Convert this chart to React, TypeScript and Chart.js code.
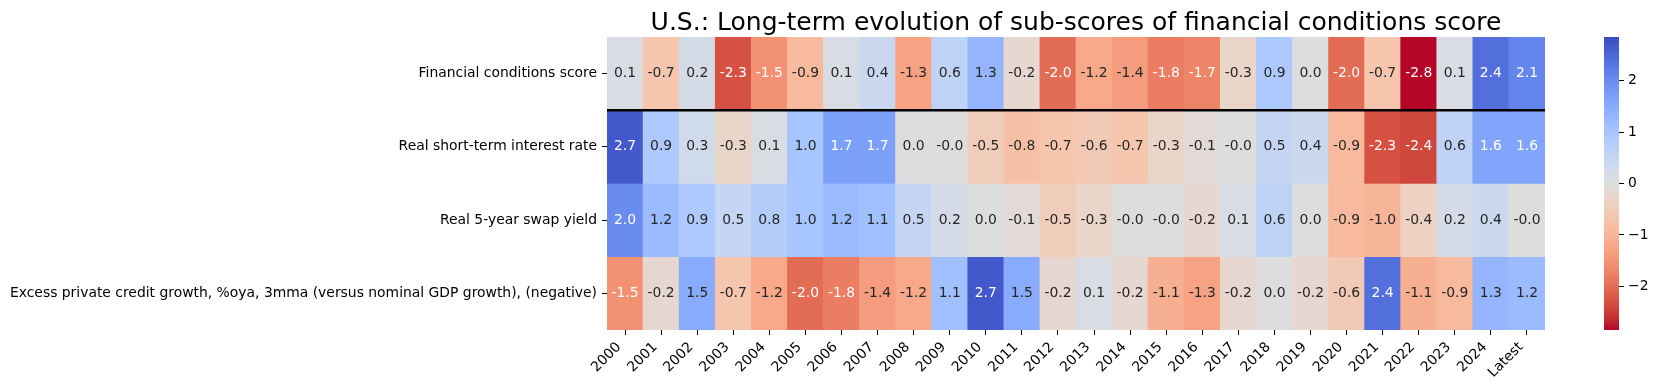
import React, { useEffect, useRef } from 'react';
import { Chart, registerables } from 'chart.js';

Chart.register(...registerables);

// ---------------- data ----------------
const titleText = 'U.S.: Long-term evolution of sub-scores of financial conditions score';

const years = [
  '2000', '2001', '2002', '2003', '2004', '2005', '2006', '2007', '2008', '2009',
  '2010', '2011', '2012', '2013', '2014', '2015', '2016', '2017', '2018', '2019',
  '2020', '2021', '2022', '2023', '2024', 'Latest',
];

const rowLabels = [
  'Financial conditions score',
  'Real short-term interest rate',
  'Real 5-year swap yield',
  'Excess private credit growth, %oya, 3mma (versus nominal GDP growth), (negative)',
];

const financialConditionsScore = [
  0.1, -0.7, 0.2, -2.3, -1.54, -0.9, 0.1, 0.4, -1.3, 0.6,
  1.3, -0.2, -2.0, -1.2, -1.4, -1.8, -1.7, -0.3, 0.9, 0.0,
  -2.0, -0.7, -2.84, 0.1, 2.4, 2.1,
];

const realShortTermRate = [
  2.7, 0.9, 0.3, -0.3, 0.1, 1.0, 1.7, 1.7, 0.0, -0.01,
  -0.5, -0.8, -0.7, -0.6, -0.7, -0.3, -0.1, -0.01, 0.5, 0.4,
  -0.9, -2.3, -2.4, 0.6, 1.6, 1.6,
];

const real5ySwapYield = [
  2.0, 1.2, 0.9, 0.5, 0.8, 1.0, 1.2, 1.1, 0.5, 0.2,
  0.0, -0.1, -0.5, -0.3, -0.01, -0.01, -0.2, 0.1, 0.6, 0.0,
  -0.9, -1.0, -0.4, 0.2, 0.4, -0.01,
];

const excessCreditGrowth = [
  -1.54, -0.2, 1.5, -0.7, -1.2, -2.0, -1.8, -1.4, -1.2, 1.1,
  2.7, 1.5, -0.2, 0.1, -0.2, -1.1, -1.3, -0.2, 0.0, -0.2,
  -0.6, 2.4, -1.1, -0.9, 1.3, 1.2,
];

const colorbarTicks = [-2, -1, 0, 1, 2];
const vLimit = 2.85;

// matplotlib coolwarm (33 control points)
const coolwarm: number[][] = [
  [59, 76, 192], [68, 90, 204], [77, 104, 215], [87, 117, 225], [98, 130, 234],
  [108, 142, 241], [119, 154, 247], [130, 165, 251], [141, 176, 254], [152, 185, 255],
  [163, 194, 255], [174, 201, 253], [184, 208, 249], [194, 213, 244], [204, 217, 238],
  [213, 219, 230], [221, 221, 221], [229, 216, 209], [236, 211, 197], [241, 204, 184],
  [245, 196, 172], [247, 187, 159], [247, 177, 147], [247, 166, 134], [244, 154, 123],
  [241, 141, 111], [236, 127, 99], [229, 112, 88], [222, 96, 77], [213, 80, 66],
  [203, 62, 56], [192, 40, 47], [180, 4, 38],
];

function coolwarmAt(t: number): number[] {
  const tt = Math.min(1, Math.max(0, t)) * (coolwarm.length - 1);
  const i = Math.min(coolwarm.length - 2, Math.floor(tt));
  const f = tt - i;
  const a = coolwarm[i];
  const b = coolwarm[i + 1];
  return [0, 1, 2].map((k) => a[k] + (b[k] - a[k]) * f);
}

// reversed colormap, symmetric around 0
function valueRgb(v: number): number[] {
  const n = (v + vLimit) / (2 * vLimit);
  return coolwarmAt(1 - n);
}

function rgbStr(c: number[]): string {
  return `rgb(${Math.round(c[0])},${Math.round(c[1])},${Math.round(c[2])})`;
}

function textColor(v: number): string {
  const c = valueRgb(v).map((x) => {
    const s = x / 255;
    return s <= 0.03928 ? s / 12.92 : Math.pow((s + 0.055) / 1.055, 2.4);
  });
  const lum = 0.2126 * c[0] + 0.7152 * c[1] + 0.0722 * c[2];
  return lum > 0.408 ? 'rgb(38,38,38)' : '#ffffff';
}

const FONT = 'DejaVu Sans';

export default function App() {
  const mainRef = useRef<HTMLCanvasElement>(null);
  const cbRef = useRef<HTMLCanvasElement>(null);

  useEffect(() => {
    document.body.style.margin = '0';
    const rows = [financialConditionsScore, realShortTermRate, real5ySwapYield, excessCreditGrowth];

    const heatmapPlugin = {
      id: 'heatmapText',
      afterDatasetsDraw(chart: any) {
        const { ctx, chartArea } = chart;
        const xs = chart.scales.x;
        const ys = chart.scales.y;
        ctx.save();
        ctx.font = `13.9px "${FONT}"`;
        ctx.textAlign = 'center';
        ctx.textBaseline = 'middle';
        rows.forEach((vals, i) => {
          vals.forEach((v, j) => {
            ctx.fillStyle = textColor(v);
            ctx.fillText(v.toFixed(1), xs.getPixelForValue(j), ys.getPixelForValue(i + 0.5));
          });
        });
        const ly = ys.getPixelForValue(1);
        ctx.strokeStyle = '#000';
        ctx.lineWidth = 2.7;
        ctx.beginPath();
        ctx.moveTo(chartArea.left, ly);
        ctx.lineTo(chartArea.right, ly);
        ctx.stroke();
        ctx.font = `25px "${FONT}"`;
        ctx.fillStyle = '#000';
        ctx.textAlign = 'center';
        ctx.textBaseline = 'alphabetic';
        ctx.fillText(titleText, (chartArea.left + chartArea.right) / 2, chartArea.top - 7.5);
        ctx.restore();
      },
    };

    const tickFont = { family: FONT, size: 13.9 };

    const main = new Chart(mainRef.current as HTMLCanvasElement, {
      type: 'bar',
      data: {
        labels: years,
        datasets: rows.map((vals, i) => ({
          label: rowLabels[i],
          data: years.map(() => [i, i + 1]),
          backgroundColor: vals.map((v) => rgbStr(valueRgb(v))),
          borderWidth: 0,
          grouped: false,
          barPercentage: 1,
          categoryPercentage: 1,
        })),
      } as any,
      options: {
        responsive: false,
        animation: false,
        devicePixelRatio: 1,
        layout: { padding: { left: 0, right: 45, top: 37, bottom: 0 } },
        plugins: {
          legend: { display: false },
          tooltip: { enabled: false },
          title: { display: false },
        },
        scales: {
          x: {
            type: 'category',
            offset: true,
            grid: {
              display: true,
              drawOnChartArea: false,
              drawTicks: true,
              tickLength: 5,
              tickWidth: 1,
              tickColor: '#000',
              offset: false,
            },
            border: { display: false },
            ticks: {
              autoSkip: false,
              minRotation: 45,
              maxRotation: 45,
              labelOffset: -6,
              padding: 4,
              color: '#000',
              font: tickFont,
            },
            afterFit: (s: any) => {
              s.height = 60;
            },
          },
          y: {
            type: 'linear',
            min: 0,
            max: 4,
            reverse: true,
            grid: {
              display: true,
              drawOnChartArea: false,
              drawTicks: true,
              tickLength: 5,
              tickWidth: 1,
              tickColor: '#000',
            },
            border: { display: false },
            afterBuildTicks: (axis: any) => {
              axis.ticks = rowLabels.map((_, i) => ({ value: i + 0.5 }));
            },
            ticks: {
              callback: (_v: any, idx: number) => rowLabels[idx],
              color: '#000',
              font: tickFont,
              padding: 5,
            },
            afterFit: (s: any) => {
              s.width = 607;
            },
          },
        },
      } as any,
      plugins: [heatmapPlugin],
    });

    const cb = new Chart(cbRef.current as HTMLCanvasElement, {
      type: 'bar',
      data: {
        labels: ['colorbar'],
        datasets: [
          {
            data: [[-vLimit, vLimit]],
            backgroundColor: (c: any) => {
              const chart = c.chart;
              const area = chart.chartArea;
              if (!area) return 'rgb(221,221,221)';
              const ys = chart.scales.y;
              const g = chart.ctx.createLinearGradient(0, ys.getPixelForValue(-vLimit), 0, ys.getPixelForValue(vLimit));
              const n = coolwarm.length - 1;
              for (let k = 0; k <= n; k++) {
                const s = k / n;
                g.addColorStop(s, rgbStr(coolwarmAt(1 - s)));
              }
              return g;
            },
            borderWidth: 0,
            barPercentage: 1,
            categoryPercentage: 1,
          },
        ],
      } as any,
      options: {
        responsive: false,
        animation: false,
        devicePixelRatio: 1,
        layout: { padding: { left: 14, right: 0, top: 37, bottom: 60 } },
        plugins: { legend: { display: false }, tooltip: { enabled: false } },
        scales: {
          x: { display: false },
          y: {
            position: 'right',
            min: -vLimit,
            max: vLimit,
            grid: {
              display: true,
              drawOnChartArea: false,
              drawTicks: true,
              tickLength: 5,
              tickWidth: 1,
              tickColor: '#000',
            },
            border: { display: false },
            afterBuildTicks: (axis: any) => {
              axis.ticks = colorbarTicks.map((v) => ({ value: v }));
            },
            ticks: {
              callback: (v: any) => (v < 0 ? '\u2212' + Math.abs(v) : String(v)),
              color: '#000',
              font: tickFont,
              padding: 4,
            },
            afterFit: (s: any) => {
              s.width = 39;
            },
          },
        },
      } as any,
    });

    return () => {
      main.destroy();
      cb.destroy();
    };
  }, []);

  return (
    <div style={{ position: 'relative', width: 1658, height: 390, overflow: 'hidden' }}>
      <canvas ref={mainRef} width={1590} height={390} style={{ position: 'absolute', left: 0, top: 0 }} />
      <canvas ref={cbRef} width={68} height={390} style={{ position: 'absolute', left: 1590, top: 0 }} />
    </div>
  );
}
